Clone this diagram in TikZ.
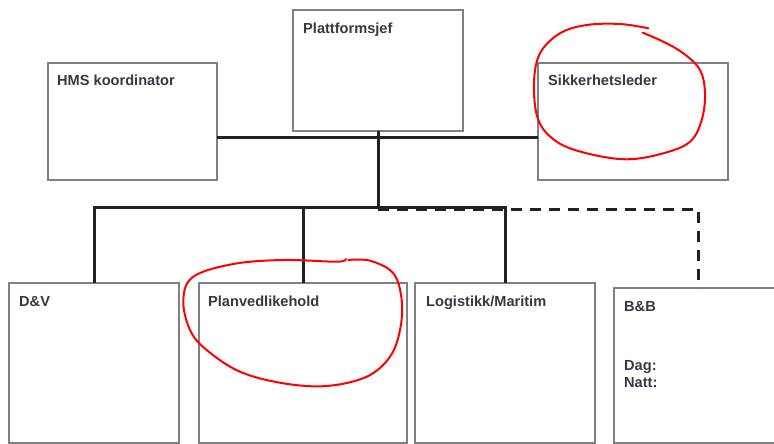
\documentclass[tikz,border=0pt]{standalone}
\usepackage{fontspec}
\setmainfont{Liberation Sans}
\definecolor{txt}{rgb}{0.22,0.22,0.27}
\definecolor{boxline}{rgb}{0.5,0.5,0.5}
\definecolor{connline}{rgb}{0.13,0.13,0.13}
\definecolor{mark}{rgb}{1,0,0}
\tikzset{
  box/.style={draw=boxline, line width=1.5pt, fill=white, rectangle, anchor=north west, inner sep=0pt, outer sep=0pt},
  lbl/.style={anchor=north west, inner sep=0pt, text=txt, font=\fontsize{14.6}{17.5}\selectfont\bfseries},
  conn/.style={draw=connline, line width=3pt},
  dashline/.style={draw=connline, line width=3pt, dash pattern=on 11pt off 8pt},
  redmark/.style={draw=mark, line width=2pt, line cap=round, line join=round}
}
\begin{document}
\begin{tikzpicture}[x=1pt,y=-1pt]
\useasboundingbox (0,0) rectangle (774,444);
\clip (0,0) rectangle (774,444);
% boxes
\node[box, minimum width=170pt, minimum height=121pt] (pj) at (293,10) {};
\node[box, minimum width=169pt, minimum height=117pt] (hms) at (48,63) {};
\node[box, minimum width=190pt, minimum height=117pt] (sik) at (538,63) {};
\node[box, minimum width=170pt, minimum height=160pt] (dv) at (9,283) {};
\node[box, minimum width=208pt, minimum height=160pt] (pv) at (199,283) {};
\node[box, minimum width=180pt, minimum height=160pt] (lm) at (415,283) {};
\node[box, minimum width=168pt, minimum height=155pt] (bb) at (614,288) {};
% texts
\node[lbl] (pjt) at ([shift={(10,13)}]pj.north west) {Plattformsjef};
\node[lbl] (hmst) at ([shift={(9,12)}]hms.north west) {HMS koordinator};
\node[lbl] (sikt) at ([shift={(10,12)}]sik.north west) {Sikkerhetsleder};
\node[lbl] (dvt) at ([shift={(10,13)}]dv.north west) {D\&V};
\node[lbl] (pvt) at ([shift={(9,13)}]pv.north west) {Planvedlikehold};
\node[lbl] (lmt) at ([shift={(11,13)}]lm.north west) {Logistikk/Maritim};
\node[lbl] (bbt) at ([shift={(10,13)}]bb.north west) {B\&B};
\node[lbl, align=left] (bbt2) at ([shift={(10,72)}]bb.north west) {Dag:\\Natt:};
% connectors
\coordinate (j1) at (378,137);
\coordinate (j2) at (378,207);
\coordinate (j3) at (378,209);
\draw[conn] (hms.east |- j1) -- (sik.west |- j1);
\draw[conn] (pj.south) -- (j2);
\draw[conn] (dv.north) -- (dv.north |- j2) -- (lm.north |- j2) -- (lm.north);
\draw[conn] (pv.north) -- (pv.north |- j2);
\draw[dashline] (j3) -| (bb.north);
% red hand-drawn marks
\draw[redmark] plot[smooth, tension=0.6] coordinates {
 (648.3,28.3) (620,24) (586.7,25) (560,33.3) (540,53.3) (534,83.3) (538.3,120)
 (556.7,141.7) (586.7,153.3) (626.7,159.3) (663.3,153.3) (690,141.7) (701.7,120)
 (705,93.3) (700,70) (683.3,53.3) (663.3,41.7) (642.7,32.7)};
\draw[redmark] plot[smooth, tension=0.6] coordinates {
 (348.3,260) (370,260.7) (393.3,273.3) (401.7,300) (400,330) (390,356.7)
 (366.7,376.7) (326.7,386) (283.3,383.3) (240,371.7) (206.7,350) (190,330)
 (183.3,300) (193.3,276.7) (233.3,264) (283.3,260) (336.7,261.7) (346,259)};
\end{tikzpicture}
\end{document}
